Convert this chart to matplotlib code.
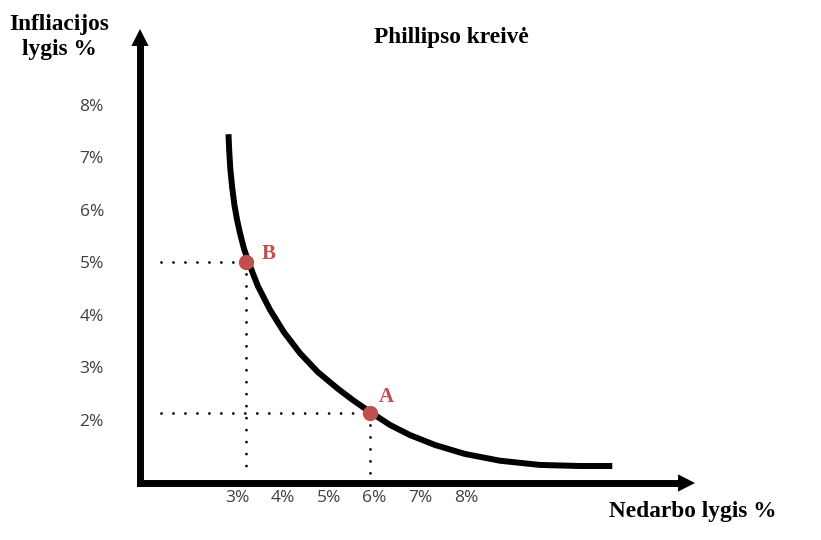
import matplotlib
matplotlib.use("Agg")
import matplotlib.pyplot as plt

# Phillipso kreivė - duomenys (nuskaityti nuo paveikslo)
x_ticks = [3, 4, 5, 6, 7, 8]
x_tick_labels = ["3%", "4%", "5%", "6%", "7%", "8%"]
y_ticks = [2, 3, 4, 5, 6, 7, 8]
y_tick_labels = ["2%", "3%", "4%", "5%", "6%", "7%", "8%"]

# kreivės taškai (nedarbas %, infliacija %)
kreive_x = [2.81, 2.825, 2.85, 2.89, 2.94, 2.995, 3.06, 3.145, 3.24, 3.45,
            3.72, 4.02, 4.37, 4.76, 5.20, 5.55, 5.90, 6.34, 6.77, 7.32, 7.97,
            8.74, 9.61, 10.48, 11.19]
kreive_y = [7.44, 7.14, 6.78, 6.43, 6.09, 5.82, 5.56, 5.27, 5.02, 4.55, 4.09,
            3.67, 3.27, 2.91, 2.59, 2.36, 2.15, 1.90, 1.71, 1.52, 1.35, 1.22,
            1.14, 1.12, 1.12]

taskai_vardai = ["B", "A"]
taskai_x = [3.2, 5.9]
taskai_y = [5.0, 2.13]

raudona = "#c0504d"
pilka = "#404040"
serif = ["Liberation Serif", "DejaVu Serif"]

fig = plt.figure(figsize=(8.21, 5.40), dpi=100)
ax = fig.add_axes([140 / 821, 57 / 540, 555 / 821, 454 / 540])
xmin, xmax = 0.878, 12.996
ymin, ymax = 0.796, 9.444
ax.set_xlim(xmin, xmax)
ax.set_ylim(ymin, ymax)
for s in ax.spines.values():
    s.set_visible(False)

# ašys su rodyklėmis
galva_x = 17 / 45.8
galva_y = 17 / 52.5
ax.plot([xmin, xmin], [ymin, ymax - galva_y], color="black", lw=5,
        solid_capstyle="projecting", clip_on=False)
ax.plot([xmin, xmax - galva_x], [ymin, ymin], color="black", lw=5,
        solid_capstyle="projecting", clip_on=False)
stilius = "-|>,head_length=0.61,head_width=0.31"
ax.annotate("", xy=(xmin, ymax), xytext=(xmin, ymax - galva_y),
            arrowprops=dict(arrowstyle=stilius, lw=0, color="black",
                            mutation_scale=20, shrinkA=0, shrinkB=0),
            annotation_clip=False)
ax.annotate("", xy=(xmax, ymin), xytext=(xmax - galva_x, ymin),
            arrowprops=dict(arrowstyle=stilius, lw=0, color="black",
                            mutation_scale=20, shrinkA=0, shrinkB=0),
            annotation_clip=False)

# taškinės linijos
for tx, ty in zip(taskai_x, taskai_y):
    ax.plot([xmin + 0.45, tx], [ty, ty], color="black", lw=2,
            dashes=(0.01, 4.3), dash_capstyle="round", clip_on=False)
    ax.plot([tx, tx], [ty, ymin + 0.12], color="black", lw=2,
            dashes=(0.01, 4.3), dash_capstyle="round", clip_on=False)

# kreivė
ax.plot(kreive_x, kreive_y, color="black", lw=4.3, solid_capstyle="butt",
        solid_joinstyle="round", clip_on=False)

# taškai A ir B
ax.plot(taskai_x, taskai_y, "o", color=raudona, ms=10, clip_on=False, zorder=5)
ax.annotate("B", (taskai_x[0], taskai_y[0]), xytext=(11, 6),
            textcoords="offset points", color=raudona, fontsize=15,
            fontweight="bold", family=serif, ha="left", va="center")
ax.annotate("A", (taskai_x[1], taskai_y[1]), xytext=(6, 4),
            textcoords="offset points", color=raudona, fontsize=15,
            fontweight="bold", family=serif, ha="left", va="bottom")

# padalos
ax.set_xticks(x_ticks, x_tick_labels)
ax.set_yticks(y_ticks, y_tick_labels)
ax.tick_params(axis="both", length=0, labelcolor=pilka, labelsize=12.5)
ax.tick_params(axis="x", pad=5)
ax.tick_params(axis="y", pad=26)
for lbl in ax.get_xticklabels() + ax.get_yticklabels():
    lbl.set_family(["Open Sans", "DejaVu Sans"])

# užrašai
fig.text(451 / 821, 1 - 38 / 540, "Phillipso kreivė", ha="center", va="center",
         fontsize=16.8, fontweight="bold", family=serif)
fig.text(59 / 821, 1 - 37 / 540, "Infliacijos\nlygis %", ha="center",
         va="center", fontsize=16.8, fontweight="bold", family=serif,
         linespacing=1.25)
fig.text(693 / 821, 1 - 512 / 540, "Nedarbo lygis %", ha="center",
         va="center", fontsize=16.8, fontweight="bold", family=serif)

fig.savefig("out.png", dpi=100)
